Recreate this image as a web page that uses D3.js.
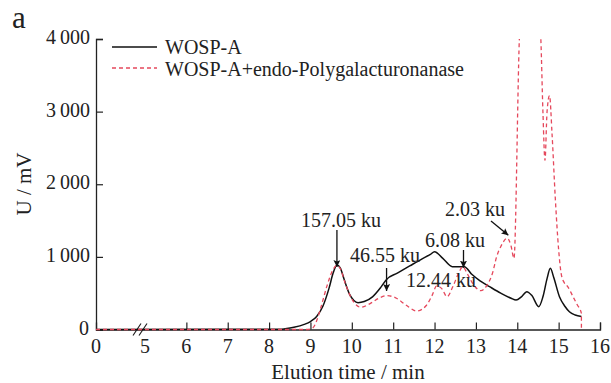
<!DOCTYPE html>
<html>
<head>
<meta charset="utf-8">
<script src="https://cdn.jsdelivr.net/npm/d3@7"></script>
<style>
  body { margin: 0; background: #fff; }
  svg text { font-family: "Liberation Serif", "Times New Roman", serif; fill: #222; }
</style>
</head>
<body>
<svg id="chart" width="611" height="383"></svg>
<script>
// elution profile, WOSP-A
const timeA = [0, 8.3, 8.6, 8.85, 9.0, 9.15, 9.3, 9.45, 9.55, 9.64, 9.72, 9.82, 9.95, 10.05, 10.15, 10.3, 10.5, 10.7, 10.84,
  11.1, 11.4, 11.7, 11.9, 12.0, 12.2, 12.43, 12.72, 12.9, 13.1, 13.33, 13.6, 13.85, 13.97, 14.1, 14.23, 14.35, 14.52,
  14.62, 14.72, 14.8, 14.88, 15.02, 15.15, 15.26, 15.4, 15.55]
const valueA = [0, 5, 30, 70, 110, 180, 320, 570, 780, 888, 850, 680, 480, 400, 370, 385, 450, 580, 690,
  776, 875, 973, 1035, 1072, 980, 865, 865, 760, 670, 590, 500, 430, 406, 450, 521, 470, 314,
  450, 700, 843, 720, 452, 320, 245, 200, 180]

// WOSP-A after endo-polygalacturonanase
const timeB = [0, 8.9, 9.05, 9.15, 9.25, 9.4, 9.55, 9.64, 9.72, 9.85, 10.0, 10.22, 10.45, 10.65, 10.84, 11.05, 11.3, 11.57,
  11.8, 11.95, 12.05, 12.18, 12.3, 12.45, 12.6, 12.68, 12.8, 12.92, 13.12, 13.28, 13.4, 13.5, 13.6, 13.76, 13.85, 13.92,
  14.05, 14.3, 14.57, 14.62, 14.67, 14.72, 14.78, 14.84, 14.92, 15.0, 15.06, 15.14, 15.22, 15.35, 15.45, 15.55, 15.551]
const valueB = [0, 0, 20, 120, 300, 600, 830, 880, 840, 620, 420, 306, 360, 430, 466, 440, 340, 255,
  330, 480, 600, 560, 452, 600, 800, 865, 760, 636, 534, 620, 774, 1000, 1140, 1256, 1150, 980,
  4000, 6000, 4000, 3000, 2330, 3000, 3220, 2700, 1800, 1100, 774, 640, 590, 450, 340, 223, 0]

const xTicks = [0, 5, 6, 7, 8, 9, 10, 11, 12, 13, 14, 15, 16]
const yTicks = [0, 1000, 2000, 3000, 4000]

const peakLabels = [
  {text: "157.05 ku", t: 9.64, v: 888},
  {text: "46.55 ku", t: 10.84, v: 690},
  {text: "6.08 ku", t: 12.7, v: 865},
  {text: "12.44 ku", t: null, v: null},
  {text: "2.03 ku", t: 13.76, v: 1256}
]

const red = "#e5485c"
let svg = d3.select("#chart")

let xScale = d3.scaleLinear().domain([0, 5, 16]).range([96, 145, 600])
let yScale = d3.scaleLinear().domain([0, 4000]).range([329.5, 39])

let fmt = d => d == 0 ? "0" : d3.format(",")(d).replace(",", "\u2009")

svg.append("defs").append("clipPath").attr("id", "plot")
  .append("rect").attr("x", 96).attr("y", yScale(4000)).attr("width", 510).attr("height", 300)
svg.select("defs").append("marker")
  .attr("id", "head").attr("viewBox", "0 0 10 10").attr("refX", 10).attr("refY", 5)
  .attr("markerWidth", 7).attr("markerHeight", 7).attr("markerUnits", "userSpaceOnUse")
  .attr("orient", "auto")
  .append("path").attr("d", "M0,0L10,5L0,10L2,5Z").attr("fill", "#111")

// axes
let xAxis = d3.axisBottom(xScale).tickValues(xTicks.filter(d => d > 5)).tickSize(-7).tickFormat("")
svg.append("g").attr("transform", `translate(0,${yScale(0)})`).call(xAxis)
let yAxis = d3.axisLeft(yScale).tickValues(yTicks).tickSize(-7).tickFormat("")
svg.append("g").attr("transform", `translate(${xScale(0)},0)`).call(yAxis)
svg.selectAll(".domain").attr("stroke", "#222").attr("stroke-width", 1.3)
svg.selectAll(".tick line").attr("stroke", "#222").attr("stroke-width", 1.2)

svg.selectAll(".xlab").data(xTicks).enter().append("text")
  .attr("x", d => xScale(d)).attr("y", 353)
  .attr("text-anchor", "middle").style("font-size", "20px")
  .text(d => d)
svg.selectAll(".ylab").data(yTicks).enter().append("text")
  .attr("x", d => d == 0 ? 89 : 90).attr("y", d => yScale(d) + 5)
  .attr("text-anchor", "end").style("font-size", "20px")
  .text(fmt)

// axis break on x
let bx = xScale(5)
svg.append("path")
  .attr("d", `M${bx - 12},${yScale(0) + 6}L${bx - 4},${yScale(0) - 6}M${bx - 6},${yScale(0) + 6}L${bx + 2},${yScale(0) - 6}`)
  .attr("stroke", "#222").attr("stroke-width", 1.2)

svg.append("text").attr("x", 348).attr("y", 379).attr("text-anchor", "middle")
  .style("font-size", "21px").text("Elution time / min")
svg.append("text").attr("transform", "translate(31,184) rotate(-90)").attr("text-anchor", "middle")
  .style("font-size", "21px").text("U / mV")
svg.append("text").attr("x", 12).attr("y", 28).style("font-size", "31px").text("a")

// curves
let line = d3.line().x(d => xScale(d[0])).y(d => yScale(d[1])).curve(d3.curveMonotoneX)
let plot = svg.append("g").attr("clip-path", "url(#plot)")
plot.append("path").datum(d3.zip(timeA, valueA)).attr("d", line)
  .attr("fill", "none").attr("stroke", "#111").attr("stroke-width", 1.5)
plot.append("path").datum(d3.zip(timeB, valueB)).attr("d", line)
  .attr("fill", "none").attr("stroke", red).attr("stroke-width", 1.3).attr("stroke-dasharray", "4,3")

// legend
let legend = svg.append("g")
legend.append("line").attr("x1", 112).attr("x2", 157).attr("y1", 47).attr("y2", 47).attr("stroke", "#111").attr("stroke-width", 1.5)
legend.append("text").attr("x", 165).attr("y", 54).style("font-size", "20px").text("WOSP-A")
legend.append("line").attr("x1", 112).attr("x2", 157).attr("y1", 68).attr("y2", 68).attr("stroke", red).attr("stroke-width", 1.3).attr("stroke-dasharray", "4,3")
legend.append("text").attr("x", 165).attr("y", 76).style("font-size", "20px").text("WOSP-A+endo-Polygalacturonanase")

// molecular weight labels and arrows
let notes = svg.append("g").style("font-size", "20px")
let arrow = (x1, y1, x2, y2) => notes.append("line").attr("x1", x1).attr("y1", y1).attr("x2", x2).attr("y2", y2)
  .attr("stroke", "#111").attr("stroke-width", 1.3).attr("marker-end", "url(#head)")

let p0 = peakLabels[0]
notes.append("text").attr("x", xScale(p0.t) + 4).attr("y", 227).attr("text-anchor", "middle").text(p0.text)
arrow(xScale(p0.t), 230, xScale(p0.t), yScale(p0.v) + 2)

let p1 = peakLabels[1]
notes.append("text").attr("x", 350).attr("y", 262).text(p1.text)
arrow(xScale(p1.t), 268, xScale(p1.t), 291)

let p2 = peakLabels[2]
notes.append("text").attr("x", 425).attr("y", 247).text(p2.text)
arrow(xScale(p2.t), 250, xScale(p2.t), yScale(p2.v) + 1)

notes.append("text").attr("x", 406).attr("y", 287).text(peakLabels[3].text)

let p4 = peakLabels[4]
notes.append("text").attr("x", 445).attr("y", 216).text(p4.text)
arrow(491, 221, xScale(p4.t) + 1, yScale(p4.v) - 3)
</script>
</body>
</html>
